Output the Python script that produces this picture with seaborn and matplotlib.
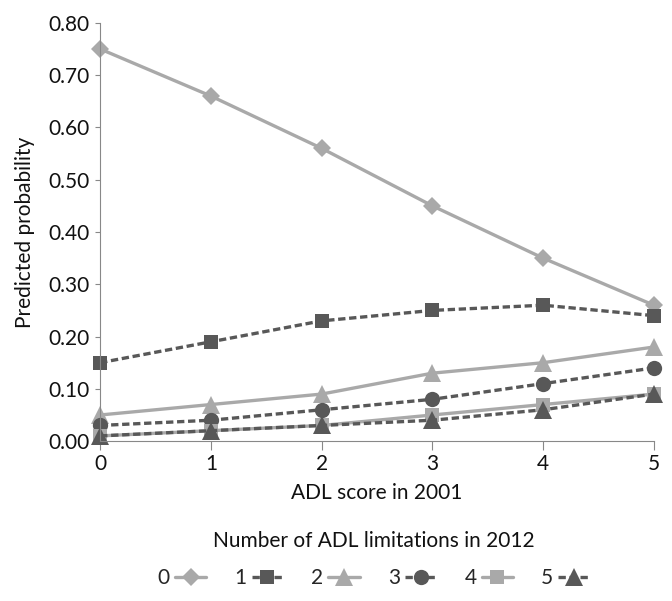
import pandas as pd
import seaborn as sns
import matplotlib
import matplotlib.pyplot as plt

matplotlib.use("Agg")

adl_2001 = [0, 1, 2, 3, 4, 5]
groups = ["0", "1", "2", "3", "4", "5"]
prob_0 = [0.75, 0.66, 0.56, 0.45, 0.35, 0.26]
prob_1 = [0.15, 0.19, 0.23, 0.25, 0.26, 0.24]
prob_2 = [0.05, 0.07, 0.09, 0.13, 0.15, 0.18]
prob_3 = [0.03, 0.04, 0.06, 0.08, 0.11, 0.14]
prob_4 = [0.01, 0.02, 0.03, 0.05, 0.07, 0.09]
prob_5 = [0.01, 0.02, 0.03, 0.04, 0.06, 0.09]

LIGHT = "#a9a9a9"
DARK = "#585858"


def build_frame():
    rows = []
    for g, vals in zip(groups, [prob_0, prob_1, prob_2, prob_3, prob_4, prob_5]):
        for x, v in zip(adl_2001, vals):
            rows.append({"adl": x, "prob": v, "group": g})
    return pd.DataFrame(rows)


def main():
    sns.set_style("ticks")
    plt.rcParams["font.family"] = ["Lato", "DejaVu Sans"]
    df = build_frame()

    fig = plt.figure(figsize=(6.72, 6.01), dpi=100)
    ax = fig.add_axes([0.149, 0.266, 0.824, 0.696])

    palette = {g: (LIGHT if i % 2 == 0 else DARK) for i, g in enumerate(groups)}
    dashes = {g: ("" if i % 2 == 0 else (2.2, 1.1)) for i, g in enumerate(groups)}
    markers = dict(zip(groups, ["D", "s", "^", "o", "s", "^"]))
    sizes = dict(zip(["D", "s", "^", "o"], [9.5, 10, 12.5, 11]))

    sns.lineplot(data=df, x="adl", y="prob", hue="group", style="group",
                 palette=palette, dashes=dashes, markers=markers,
                 markeredgewidth=0, linewidth=2.4, ax=ax, clip_on=False)

    handles, labels = ax.get_legend_handles_labels()
    ax.get_legend().remove()
    for line in list(ax.lines) + list(handles):
        m = line.get_marker()
        if m in sizes:
            line.set_markersize(sizes[m])
        line.set_clip_on(False)

    fig.legend(handles, labels, loc="center", bbox_to_anchor=(0.556, 0.038),
               ncol=6, frameon=False, markerfirst=False, handlelength=1.5,
               columnspacing=1.35, handletextpad=0.25, fontsize=15)

    fig.text(0.556, 0.1, "Number of ADL limitations in 2012", ha="center",
             va="center", fontsize=15, color="#111111")

    ax.set_xlim(0, 5)
    ax.set_ylim(0, 0.8)
    ax.set_xticks(adl_2001)
    ax.set_yticks([i / 10 for i in range(9)])
    ax.set_yticklabels([f"{i / 10:.2f}" for i in range(9)])
    ax.tick_params(labelsize=15, colors="#111111", color="#888888")
    ax.tick_params(axis="x", length=6.5, pad=3)
    ax.tick_params(axis="y", length=3.5, pad=4)
    ax.set_xlabel("ADL score in 2001", fontsize=15, labelpad=6, color="#111111")
    ax.set_ylabel("Predicted probability", fontsize=15, labelpad=10, color="#111111")
    for s in ["left", "bottom"]:
        ax.spines[s].set_color("#888888")
    sns.despine(ax=ax)

    fig.savefig("out.png", dpi=100)


if __name__ == "__main__":
    main()
